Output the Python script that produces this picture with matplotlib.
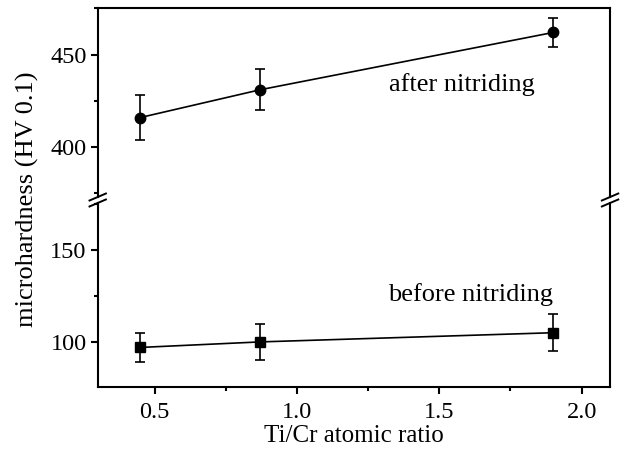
import numpy as np
import matplotlib
matplotlib.use("Agg")
import matplotlib.pyplot as plt
from matplotlib.ticker import MultipleLocator

plt.rcParams['font.family'] = ['Liberation Serif', 'DejaVu Serif']

# data
ratio = [0.45, 0.87, 1.90]
hv_after = [416, 431, 462]
err_after = [12, 11, 8]
hv_before = [97, 100, 105]
err_before = [8, 10, 10]

fig = plt.figure(figsize=(6.2, 4.53), dpi=100)
ax_top = fig.add_axes([0.1576, 0.5651, 0.8264, 0.4183])
ax_bot = fig.add_axes([0.1576, 0.1457, 0.8264, 0.4062])

kw = dict(color='black', lw=1.2, ecolor='black', elinewidth=1.2,
          capsize=3.5, capthick=1.2)
ax_top.errorbar(ratio, hv_after, yerr=err_after, marker='o', ms=7.5, **kw)
ax_bot.errorbar(ratio, hv_before, yerr=err_before, marker='s', ms=6.5, **kw)

ax_top.set_ylim(373, 475.5)
ax_bot.set_ylim(75.5, 175.5)
for ax in (ax_top, ax_bot):
    ax.set_xlim(0.3, 2.1)
    for s in ax.spines.values():
        s.set_linewidth(1.5)
    ax.tick_params(which='major', length=5, width=1.5, labelsize=17.5,
                   direction='out', right=False, top=False, pad=3)
    ax.tick_params(which='minor', length=3, width=1.5, direction='out',
                   right=False, top=False)

ax_top.yaxis.set_major_locator(MultipleLocator(50))
ax_top.yaxis.set_minor_locator(MultipleLocator(25))
ax_bot.yaxis.set_major_locator(MultipleLocator(50))
ax_bot.yaxis.set_minor_locator(MultipleLocator(25))
ax_bot.xaxis.set_major_locator(MultipleLocator(0.5))
ax_bot.xaxis.set_minor_locator(MultipleLocator(0.25))
ax_bot.xaxis.set_major_formatter(plt.FormatStrFormatter('%.1f'))
ax_bot.tick_params(axis='x', which='major', pad=6)

ax_top.spines['bottom'].set_visible(False)
ax_bot.spines['top'].set_visible(False)
ax_top.tick_params(axis='x', which='both', bottom=False, labelbottom=False)

# break marks on both side spines
for ax, yb in ((ax_top, 0.0), (ax_bot, 1.0)):
    h = ax.get_position().height * 453
    dy = 3.5 / h
    for xs in (0.0, 1.0):
        ax.plot([xs - 0.016, xs + 0.016], [yb - dy, yb + dy],
                transform=ax.transAxes, color='black', lw=1.4, clip_on=False)

ax_top.text(1.58, 434, 'after nitriding', fontsize=19, ha='center', va='center')
ax_bot.text(1.61, 126, 'before nitriding', fontsize=19, ha='center', va='center')

ax_bot.set_xlabel('Ti/Cr atomic ratio', fontsize=18, labelpad=1)
fig.text(0.045, 0.56, 'microhardness (HV 0.1)', fontsize=19,
         rotation=90, ha='center', va='center')

fig.savefig('out.png', dpi=100)
